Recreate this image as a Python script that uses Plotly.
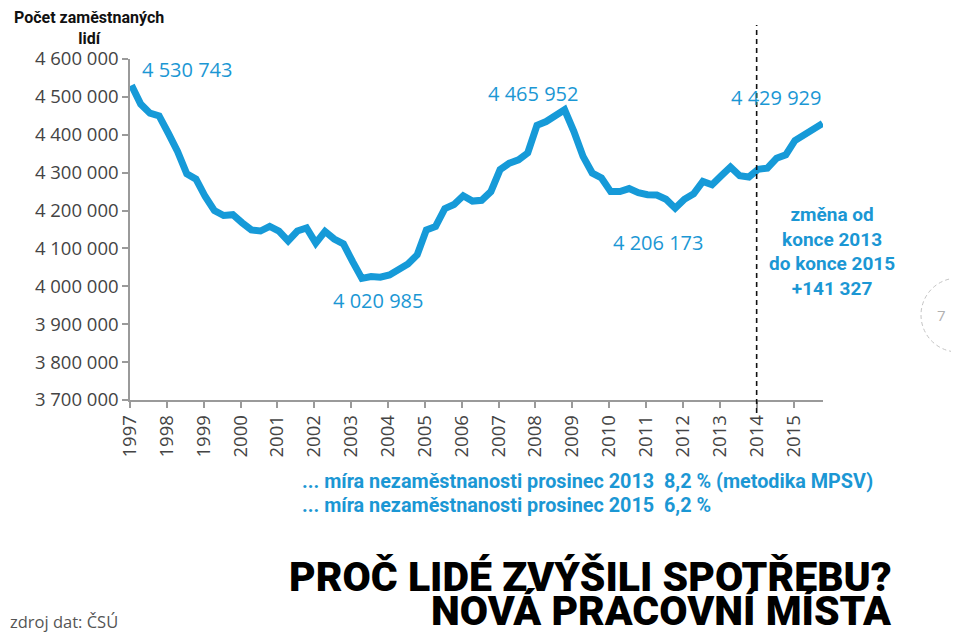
import plotly.graph_objects as go

# ---------------- data ----------------
years = list(range(1997, 2016))
quarters = [1, 2, 3, 4]
employed = [
    4530743, 4481000, 4457000, 4450000,   # 1997
    4404000, 4356000, 4297000, 4283000,   # 1998
    4237000, 4200000, 4187000, 4189000,   # 1999
    4168000, 4149000, 4146000, 4158000,   # 2000
    4146000, 4120000, 4146000, 4154000,   # 2001
    4114000, 4145000, 4125000, 4112000,   # 2002
    4065000, 4020985, 4026000, 4024000,   # 2003
    4030000, 4045000, 4059000, 4083000,   # 2004
    4149000, 4158000, 4205000, 4216000,   # 2005
    4239000, 4225000, 4227000, 4250000,   # 2006
    4308000, 4325000, 4334000, 4352000,   # 2007
    4425000, 4435000, 4450000, 4465952,   # 2008
    4409000, 4343000, 4299000, 4286000,   # 2009
    4250000, 4250000, 4258000, 4247000,   # 2010
    4242000, 4241000, 4230000, 4206173,   # 2011
    4230000, 4244000, 4277000, 4268000,   # 2012
    4292000, 4315000, 4292000, 4288602,   # 2013
    4309000, 4312000, 4338000, 4347000,   # 2014
    4385000, 4400000, 4416000, 4429929,   # 2015
]
year_ticks = [str(y) for y in years]
y_ticks = list(range(3700000, 4600001, 100000))
unemployment_lines = [
    "... míra nezaměstnanosti prosinec 2013  8,2 % (metodika MPSV)",
    "... míra nezaměstnanosti prosinec 2015  6,2 %",
]
headline = ["PROČ LIDÉ ZVÝŠILI SPOTŘEBU?", "NOVÁ PRACOVNÍ MÍSTA"]
change_from_year = 2014

# ---------------- layout helpers ----------------
OFF = 8                      # page body margin of the html page
W, H = 959 - OFF, 635 - OFF  # figure size
ML, MR, MT, MB = 122, 136, 51, 235
PW, PH = W - ML - MR, H - MT - MB
X_RANGE = [1997, 2015.8]


def fmt(v):
    return f"{v:,}".replace(",", " ")


def px(xp):   # window pixel -> paper
    return (xp - OFF - ML) / PW


def py(yp):   # window pixel -> paper
    return (H - MB - (yp - OFF)) / PH


x = [yr + (q - 1) / 4 + 0.04 for yr in years for q in quarters]

BLUE = "#169ad8"
TXT_BLUE = "#1b97d4"
GRAY = "#444444"
AXIS = "#9a9a9a"
REG = "Open Sans, Noto Sans, sans-serif"
BOLD = "Roboto, Noto Sans, sans-serif"

fig = go.Figure()
fig.add_trace(go.Scatter(
    x=x, y=employed, mode="lines",
    line=dict(color=BLUE, width=7, shape="linear"),
    hoverinfo="skip", showlegend=False,
))

i_max = employed.index(max(employed[20:]))
i_min = employed.index(min(employed))
i_loc = employed.index(min(employed[50:]))
i_13 = years.index(2013) * 4 + 3
change = employed[-1] - employed[i_13]

ann = []


def add(text, xp, yp, size, color, family, xanchor="center", weight=None,
        align="center", yanchor="middle"):
    f = dict(size=size, color=color, family=family)
    if weight is not None:
        f["weight"] = weight
    ann.append(dict(text=text, x=px(xp), y=py(yp), xref="paper", yref="paper",
                    xanchor=xanchor, yanchor=yanchor, showarrow=False,
                    font=f, align=align))


add(fmt(employed[0]), 140, 70, 20, TXT_BLUE, REG, xanchor="left")
add(fmt(employed[i_max]), 533, 93, 20, TXT_BLUE, REG)
add(fmt(employed[-1]), 775.5, 97, 20, TXT_BLUE, REG)
add(fmt(employed[i_min]), 377.5, 300, 20, TXT_BLUE, REG)
add(fmt(employed[i_loc]), 658, 242, 20, TXT_BLUE, REG)
add("změna od<br>konce 2013<br>do konce 2015<br>+" + fmt(change), 832, 252, 19,
    TXT_BLUE, BOLD, weight=700)
add(unemployment_lines[0], 300, 481, 19.8, TXT_BLUE, BOLD, xanchor="left", weight=700)
add(unemployment_lines[1], 300, 505, 19.8, TXT_BLUE, BOLD, xanchor="left", weight=700)
add(headline[0], 894, 577, 41, "#000000", BOLD, xanchor="right", weight=900)
add(headline[1], 894, 611, 41, "#000000", BOLD, xanchor="right", weight=900)
add("zdroj dat: ČSÚ", 8, 621, 16.5, "#555555", REG, xanchor="left")
add("Počet zaměstnaných<br>lidí", 89, 6, 16, "#111111", BOLD, weight=700,
    yanchor="top")
add("7", 941, 315, 15, "#b0b0b0", REG)
fig.update_layout(annotations=ann)

# dashed vertical line at start of 2014
xd = (change_from_year - X_RANGE[0]) / (X_RANGE[1] - X_RANGE[0])
fig.add_shape(type="line", xref="paper", yref="paper", x0=xd, x1=xd,
              y0=py(413), y1=py(25), line=dict(color="#111111", width=1.6, dash="5px,4px"))
# page-number circle
fig.add_shape(type="circle", xref="paper", yref="paper",
              x0=px(921), x1=px(995), y0=py(352), y1=py(278),
              line=dict(color="#c4c4c4", width=1, dash="4px,3px"))

fig.update_layout(
    width=W, height=H,
    margin=dict(l=ML, r=MR, t=MT, b=MB, pad=0),
    paper_bgcolor="white", plot_bgcolor="white",
    separators=", ",
    showlegend=False,
    xaxis=dict(
        range=X_RANGE, tickmode="array", tickvals=years, ticktext=year_ticks,
        tickangle=-90, ticks="outside", ticklen=6, tickcolor=AXIS, tickwidth=1.5,
        showline=True, linecolor=AXIS, linewidth=1.5, showgrid=False, zeroline=False,
        tickfont=dict(size=18.5, color=GRAY, family=REG),
    ),
    yaxis=dict(
        range=[3700000, 4600000], tickmode="array", tickvals=y_ticks,
        ticktext=[fmt(v) for v in y_ticks],
        ticks="outside", ticklen=6, tickcolor=AXIS, tickwidth=1.5,
        showline=True, linecolor=AXIS, linewidth=1.5, showgrid=False, zeroline=False,
        tickfont=dict(size=18.5, color=GRAY, family=REG),
    ),
)

fig.write_html("out.html")
